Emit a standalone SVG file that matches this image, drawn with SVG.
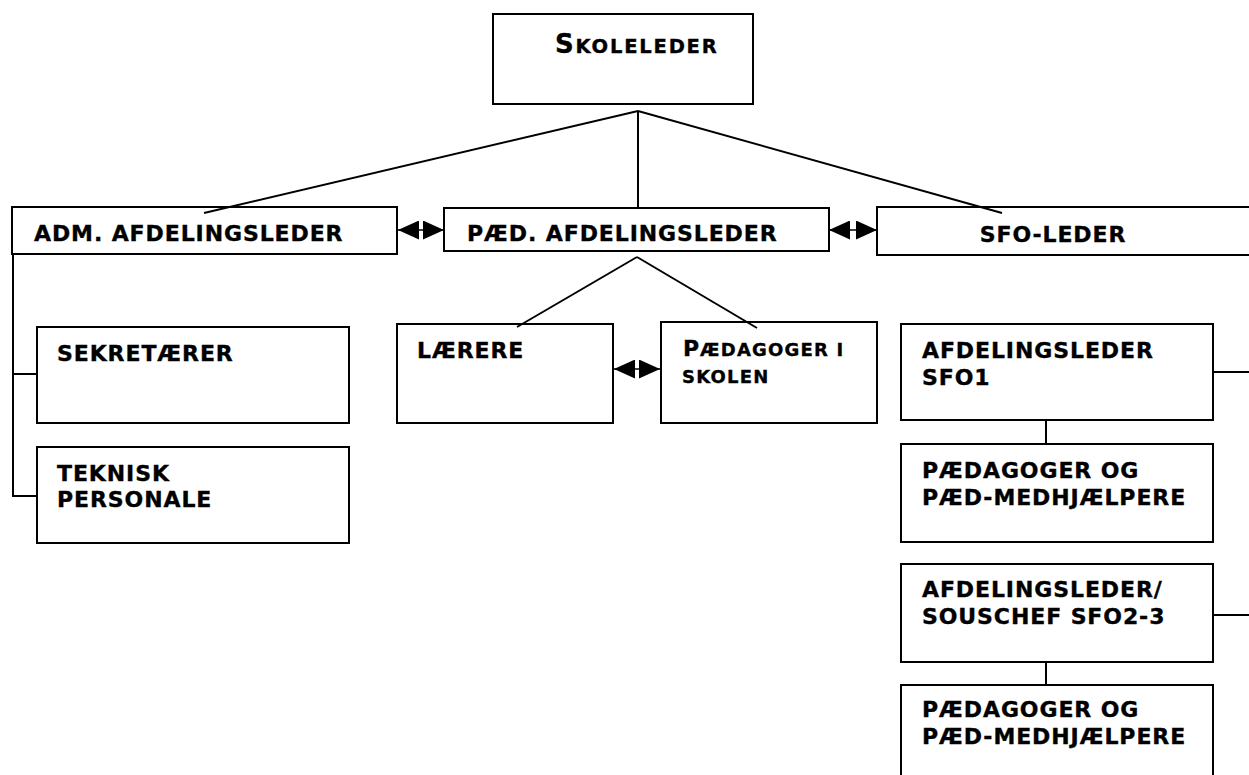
<svg xmlns="http://www.w3.org/2000/svg" width="1249" height="775" viewBox="0 0 1249 775">
<style>
.box{fill:#fff;stroke:#000;stroke-width:2}
.ln{fill:none;stroke:#000;stroke-width:2}
.ar{fill:none;stroke:#000;stroke-width:1.5}
text{font-family:"DejaVu Sans","Verdana",sans-serif;font-weight:bold;fill:#000;stroke:#000;stroke-width:0.35;font-size:22px;letter-spacing:0.9px}
.sc{font-size:18px;letter-spacing:1.2px}
</style>
<defs>
<marker id="head" viewBox="0 0 21 19" refX="21" refY="9.5" markerWidth="21" markerHeight="19" markerUnits="userSpaceOnUse" orient="auto-start-reverse">
<path d="M0,0 L21,9.5 L0,19 Z" fill="#000"/>
</marker>
</defs>
<rect width="1249" height="775" fill="#fff"/>
<g id="skoleleder">
<rect class="box" x="493" y="14" width="260" height="90"/>
<text x="555" y="53" style="letter-spacing:1.8px"><tspan style="font-size:26px">S</tspan><tspan style="font-size:19.5px">KOLELEDER</tspan></text>
</g>
<g id="adm">
<rect class="box" x="12" y="207" width="385" height="47"/>
<text x="34" y="241">ADM. AFDELINGSLEDER</text>
</g>
<g id="paed">
<rect class="box" x="444" y="208" width="385" height="43"/>
<text x="467" y="241">PÆD. AFDELINGSLEDER</text>
</g>
<g id="sfo">
<rect class="box" x="877" y="207" width="380" height="48"/>
<text x="1053" y="242" text-anchor="middle">SFO-LEDER</text>
</g>
<g id="sekretaerer">
<rect class="box" x="37" y="327" width="312" height="96"/>
<text x="57" y="361">SEKRETÆRER</text>
</g>
<g id="teknisk">
<rect class="box" x="37" y="447" width="312" height="96"/>
<text x="57" y="481">TEKNISK</text>
<text x="57" y="507">PERSONALE</text>
</g>
<g id="laerere">
<rect class="box" x="397" y="324" width="216" height="99"/>
<text x="417" y="358">LÆRERE</text>
</g>
<g id="paedagoger-skolen">
<rect class="box" x="661" y="322" width="216" height="101"/>
<text x="683" y="356"><tspan>P</tspan><tspan class="sc">ÆDAGOGER I</tspan></text>
<text x="682" y="383" class="sc">SKOLEN</text>
</g>
<g id="afd-sfo1">
<rect class="box" x="901" y="324" width="312" height="96"/>
<text x="922" y="358">AFDELINGSLEDER</text>
<text x="922" y="385">SFO1</text>
</g>
<g id="paed-sfo1">
<rect class="box" x="901" y="444" width="312" height="98"/>
<text x="922" y="478">PÆDAGOGER OG</text>
<text x="922" y="505">PÆD-MEDHJÆLPERE</text>
</g>
<g id="afd-sfo23">
<rect class="box" x="901" y="564" width="312" height="98"/>
<text x="922" y="597">AFDELINGSLEDER/</text>
<text x="922" y="624">SOUSCHEF SFO2-3</text>
</g>
<g id="paed-sfo23">
<rect class="box" x="901" y="685" width="312" height="100"/>
<text x="922" y="717">PÆDAGOGER OG</text>
<text x="922" y="744">PÆD-MEDHJÆLPERE</text>
</g>
<g id="connectors">
<line class="ln" x1="638" y1="111" x2="204" y2="213"/>
<line class="ln" x1="638" y1="111" x2="638" y2="208"/>
<line class="ln" x1="638" y1="111" x2="1002" y2="213"/>
<line class="ln" x1="637" y1="257" x2="517" y2="327"/>
<line class="ln" x1="637" y1="257" x2="757" y2="328"/>
<polyline class="ln" points="13,254 13,496 37,496"/>
<line class="ln" x1="13" y1="374" x2="37" y2="374"/>
<line class="ln" x1="1213" y1="372" x2="1249" y2="372"/>
<line class="ln" x1="1213" y1="615" x2="1249" y2="615"/>
<line class="ln" x1="1046" y1="420" x2="1046" y2="444"/>
<line class="ln" x1="1046" y1="662" x2="1046" y2="685"/>
<line class="ar" x1="398" y1="230" x2="444" y2="230" marker-start="url(#head)" marker-end="url(#head)"/>
<line class="ar" x1="829" y1="230" x2="877" y2="230" marker-start="url(#head)" marker-end="url(#head)"/>
<line class="ar" x1="614" y1="369" x2="660" y2="369" marker-start="url(#head)" marker-end="url(#head)"/>
</g>
</svg>
